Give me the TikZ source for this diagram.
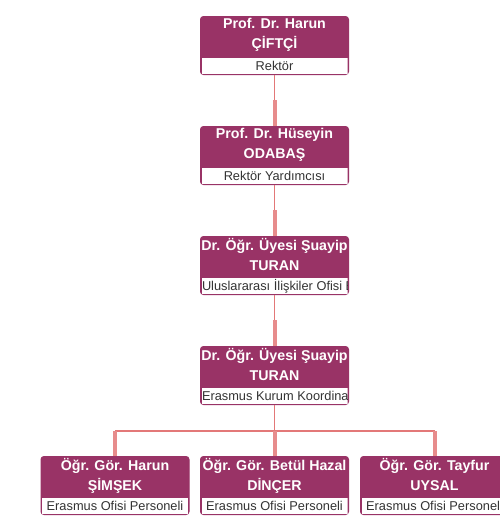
\documentclass[tikz,border=0pt]{standalone}
\usepackage{fontspec}
\setmainfont{Liberation Sans}
\usetikzlibrary{calc}
\definecolor{plum}{HTML}{993366}
\definecolor{salmon}{HTML}{E37878}
\definecolor{roletxt}{HTML}{333333}
\tikzset{
  personbox/.style={draw=plum,fill=plum,line width=1pt,rounded corners=3pt,
    minimum width=148pt,minimum height=58pt,inner sep=0pt},
  roleband/.style={fill=white,draw=none},
  nametext/.style={text=white,font=\bfseries\fontsize{14.2}{20}\selectfont,
    align=center,inner sep=0pt},
  roletext/.style={text=roletxt,font=\fontsize{12.8}{14}\selectfont,inner sep=0pt},
  uplink/.style={draw=salmon,line width=1.5pt},
  downlink/.style={draw=salmon!85,line width=4pt},
}
\hfuzz=500pt
% one box of the chart: name, x, y, title lines, role
\newcommand{\person}[5]{%
  \node[personbox] (#1) at (#2,#3) {};
  \node[nametext,anchor=north] at ([yshift=-2pt]#1.north) {#4};
  \begin{scope}
    \clip ([xshift=1.5pt,yshift=1.5pt]#1.south west) rectangle ([xshift=-1.5pt,yshift=17pt]#1.south east);
    \fill[roleband] ([xshift=1.5pt,yshift=1.5pt]#1.south west) rectangle ([xshift=-1.5pt,yshift=17pt]#1.south east);
    \node[roletext] at ([yshift=9pt]#1.south) {\spaceskip=0.28em\hbox to 145pt{\hfil #5\hfil}};
  \end{scope}
}
\begin{document}
\begin{tikzpicture}[x=1pt,y=-1pt]
  \useasboundingbox (0,0) rectangle (500,530);
  \begin{scope}
  \clip (0,0) rectangle (500,530);
  % Boxes
  \person{rektor}{274.5}{45.5}{Prof. Dr. Harun\\ÇİFTÇİ}{Rektör}
  \person{yardimci}{274.5}{155.5}{Prof. Dr. Hüseyin\\ODABAŞ}{Rektör Yardımcısı}
  \person{ofis}{274.5}{265.5}{Dr. Öğr. Üyesi Şuayip\\TURAN}{Uluslararası İlişkiler Ofisi Başkanı}
  \person{koord}{274.5}{375.5}{Dr. Öğr. Üyesi Şuayip\\TURAN}{Erasmus Kurum Koordinatörü}
  \person{simsek}{115}{485.5}{Öğr. Gör. Harun\\ŞİMŞEK}{Erasmus Ofisi Personeli}
  \person{dincer}{274.5}{485.5}{Öğr. Gör. Betül Hazal\\DİNÇER}{Erasmus Ofisi Personeli}
  \person{uysal}{434.5}{485.5}{Öğr. Gör. Tayfur\\UYSAL}{Erasmus Ofisi Personeli}
  % Links down the chain
  \draw[uplink] (rektor.south) -- ++(0,25) coordinate (m1);
  \draw[downlink] (m1) -- (yardimci.north);
  \draw[uplink] (yardimci.south) -- ++(0,25) coordinate (m2);
  \draw[downlink] (m2) -- (ofis.north);
  \draw[uplink] (ofis.south) -- ++(0,25) coordinate (m3);
  \draw[downlink] (m3) -- (koord.north);
  % Split to the staff
  \draw[uplink] (koord.south) -- ++(0,26) coordinate (bus);
  \draw[uplink] (simsek.north |- bus) -- (uysal.north |- bus);
  \draw[downlink] (simsek.north |- bus) -- (simsek.north);
  \draw[downlink] (bus) -- (dincer.north);
  \draw[downlink] (uysal.north |- bus) -- (uysal.north);
  \end{scope}
\end{tikzpicture}
\end{document}
